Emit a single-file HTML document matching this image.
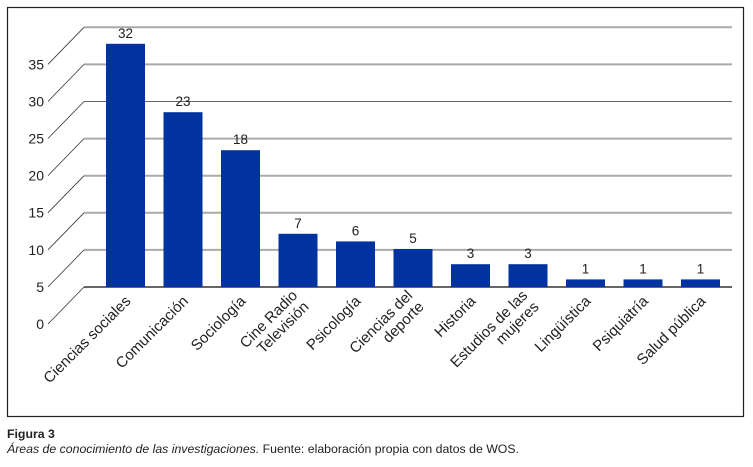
<!DOCTYPE html>
<html><head><meta charset="utf-8"><style>
body{margin:0;background:#fff;font-family:"Liberation Sans",sans-serif}
#wrap{position:relative;width:753px;height:467px}
.cap{position:absolute;left:7px;font-size:12.3px;color:#222}
</style></head><body><div id="wrap">
<svg id="chart" width="753" height="420" style="position:absolute;left:0;top:0"></svg>
<div class="cap" style="top:427px;font-weight:bold">Figura 3</div>
<div class="cap" style="top:442px"><i>Áreas de conocimiento de las investigaciones.</i> Fuente: elaboración propia con datos de WOS.</div>
</div>
<script>
const categories=["Ciencias sociales","Comunicación","Sociología","Cine Radio|Televisión","Psicología","Ciencias del|deporte","Historia","Estudios de las|mujeres","Lingüística","Psiquiatría","Salud pública"];
const values=[32,23,18,7,6,5,3,3,1,1,1];
const ticks=[0,5,10,15,20,25,30,35];
const svg=document.getElementById('chart');
const NS='http://www.w3.org/2000/svg';
function mk(t,a,p){const e=document.createElementNS(NS,t);for(const k in a)e.setAttribute(k,a[k]);(p||svg).appendChild(e);return e;}
const y0=287,gs=37.1/5,bs=7.6;
const yG=v=>y0-v*gs;
const x0=84,x1=732,step=57.5,bw=39;
const xC=i=>125.5+i*step;
const frame=mk('rect',{x:7.5,y:7.5,width:736,height:409,fill:'none',stroke:'#222','stroke-width':1.2});


ticks.forEach(t=>{
 const y=yG(t);
 const g=mk('line',{x1:x0,y1:y,x2:x1,y2:y,stroke:t==0||t==25?'#666':'#aaa','stroke-width':t==25?1:2});
 
 
 const d=mk('line',{x1:x0,y1:y,x2:x0-36,y2:y+37,stroke:'#333','stroke-width':0.8});
 
 
 const l=mk('text',{x:44,y:y+42,'text-anchor':'end','font-size':14,fill:'#222'});l.textContent=t;
 
 
});
values.forEach((v,i)=>{
 const h=v*bs;
 const r=mk('rect',{x:xC(i)-bw/2,y:y0-h,width:bw,height:h,fill:'#0033a0'});
 
 
 const t=mk('text',{x:xC(i),y:y0-h-6,'text-anchor':'middle','font-size':13.5,fill:'#222'});t.textContent=v;
 
 
 const lines=categories[i].split('|');
 const g=mk('g',{transform:`translate(${xC(i)+6},${302}) rotate(-45)`});
 
 
 lines.forEach((s,j)=>{const tx=mk('text',{x:0,y:j*16-(lines.length-1)*8,'text-anchor':'end','font-size':15,fill:'#222'},g);
  tx.textContent=s;});
});
</script></body></html>
